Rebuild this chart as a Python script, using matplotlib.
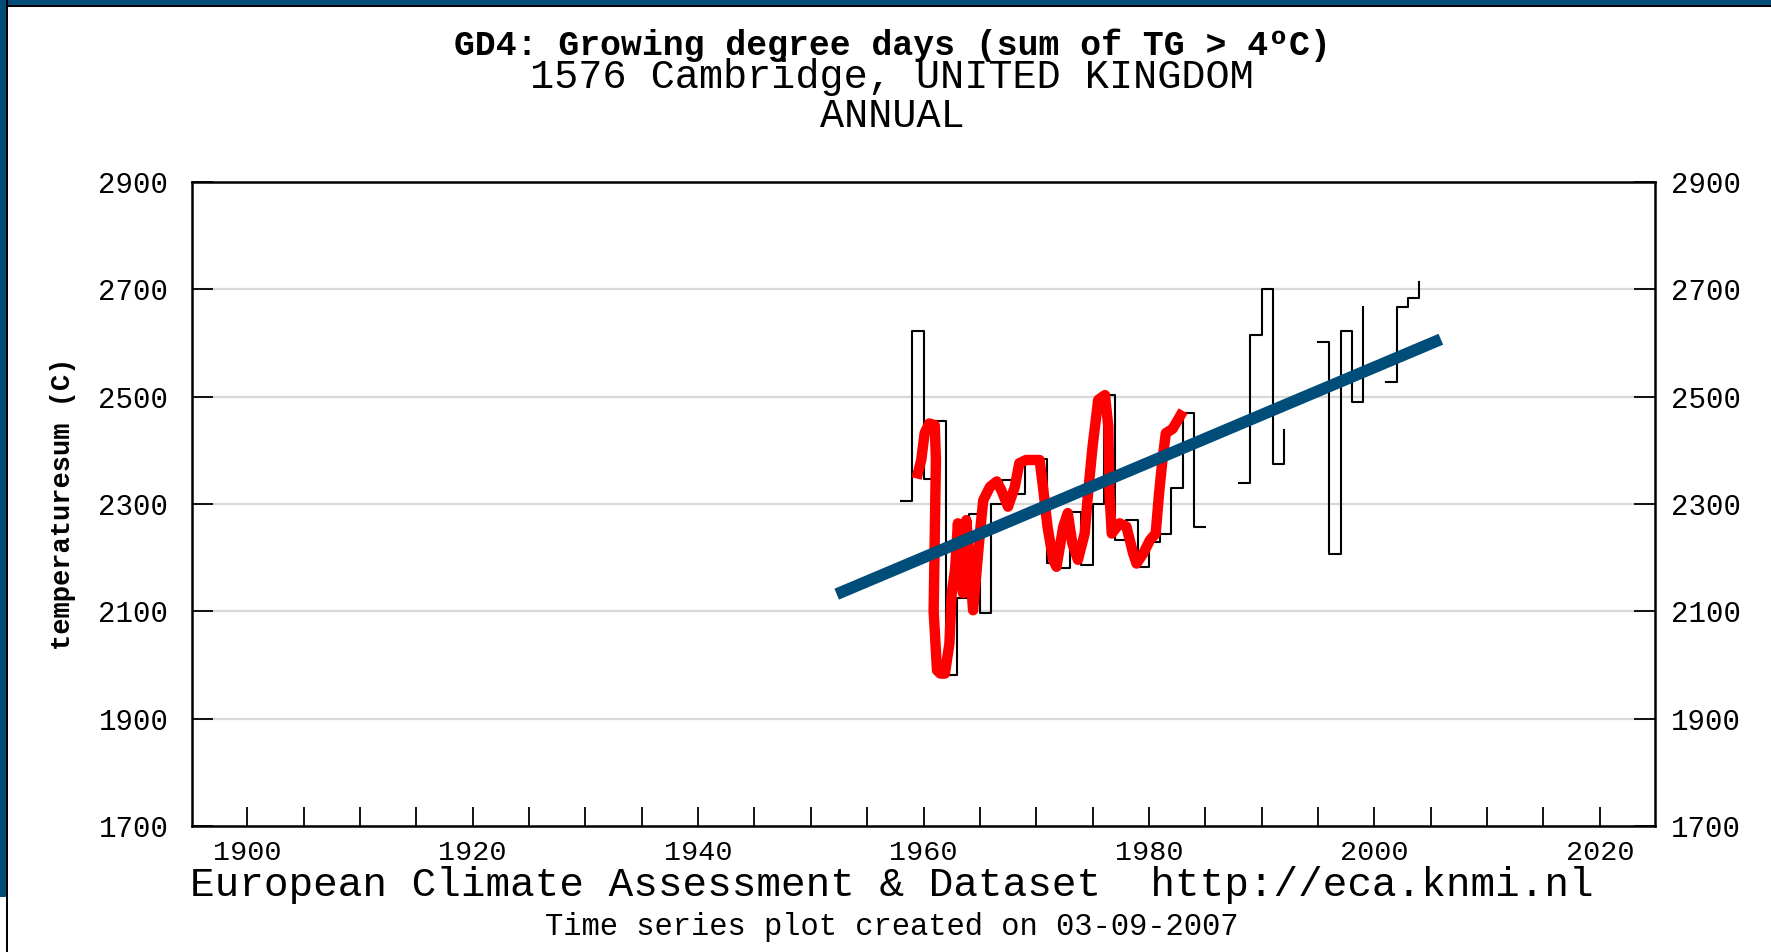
import numpy as np
import matplotlib.pyplot as plt
import matplotlib.transforms as mtransforms
from matplotlib.patches import Rectangle

# annual GD4 values (NaN = missing year)
years = list(range(1958, 2005))
gd4 = [2306, 2623, 2347, 2454, 1982, 2124, 2282, 2096, 2300, 2344,
       2319, 2384, 2384, 2190, 2180, 2285, 2187, 2300, 2504, 2232,
       2270, 2183, 2229, 2245, 2330, 2470, 2257, 2257, np.nan, np.nan,
       2339, 2614, 2700, 2375, 2437, np.nan, np.nan, 2602, 2207, 2623,
       2490, 2668, np.nan, 2527, 2668, 2684, 2714]

# hand drawn red curve (year, value)
red_x = [1959.5, 1959.8, 1960.1, 1960.5, 1961.0, 1961.1, 1960.9, 1961.2, 1961.5, 1961.9,
         1962.3, 1962.5, 1962.8, 1963.05, 1963.5, 1963.8, 1964.4, 1965.0, 1965.3, 1965.9,
         1966.5, 1966.9, 1967.5, 1968.1, 1968.5, 1969.1, 1969.5, 1970.3, 1970.6, 1971.0,
         1971.5, 1971.8, 1972.4, 1972.8, 1973.2, 1973.7, 1974.3, 1974.6, 1975.0, 1975.5,
         1976.1, 1976.4, 1976.5, 1976.7, 1977.4, 1978.0, 1978.6, 1978.9, 1979.5, 1980.1,
         1980.6, 1980.9, 1981.2, 1981.5, 1982.1, 1982.8]
red_y = [2357, 2382, 2432, 2450, 2447, 2382, 2100, 1990, 1984, 1984,
         2040, 2134, 2177, 2264, 2134, 2270, 2102, 2245, 2307, 2332,
         2342, 2326, 2295, 2332, 2376, 2382, 2382, 2382, 2332, 2258,
         2196, 2183, 2258, 2283, 2227, 2196, 2245, 2320, 2407, 2494,
         2503, 2444, 2320, 2245, 2264, 2258, 2208, 2189, 2208, 2233,
         2245, 2320, 2382, 2432, 2440, 2465]

# trend line end points
trend_x = [1952.3, 2005.9]
trend_y = [2132, 2607]

y_ticks = [1700, 1900, 2100, 2300, 2500, 2700, 2900]
x_labels = [1900, 1920, 1940, 1960, 1980, 2000, 2020]

blue = '#004d7a'
mono = ['Liberation Mono', 'DejaVu Sans Mono']

fig = plt.figure(figsize=(17.71, 9.52), dpi=100)
ax = fig.add_axes([192 / 1771, 1 - 826 / 952, (1655 - 192) / 1771, (826 - 182) / 952])

for v in y_ticks[1:-1]:
    ax.axhline(v, color='#d8d8d8', lw=1.6, zorder=1)

# each run of consecutive years drawn separately (last year of a run: riser only)
yr = np.array(years)
val = np.array(gd4, dtype=float)
ok = ~np.isnan(val)
breaks = np.where(np.diff(ok.astype(int)) != 0)[0] + 1
for seg_y, seg_v in zip(np.split(yr, breaks), np.split(val, breaks)):
    if not np.isnan(seg_v[0]):
        ax.step(seg_y, seg_v, where='post', color='black', lw=1.5, zorder=2)

ax.plot(red_x, red_y, color='#ff0000', lw=7.5, solid_joinstyle='round', zorder=3)
ax.plot(trend_x, trend_y, color=blue, lw=8.5, solid_capstyle='butt', zorder=4)

ax.set_xlim(1895.1, 2024.9)
ax.set_ylim(1700, 2900)
ax.set_yticks(y_ticks)
ax.set_yticklabels([str(v) for v in y_ticks], family=mono, fontsize=21)
ax.set_xticks(np.arange(1900, 2025, 5))
ax.set_xticklabels([str(v) if v in x_labels else '' for v in np.arange(1900, 2025, 5)],
                   family=mono, fontsize=20.5)
ax.tick_params(axis='x', direction='in', length=14, width=1.3, top=False, pad=10)
ax.tick_params(axis='y', direction='in', length=15, width=1.3, left=True, right=True,
               labelleft=True, labelright=True, pad=17)
# right hand labels sit closer to the frame
shift = mtransforms.ScaledTranslation(-0.08, 0, fig.dpi_scale_trans)
for t in ax.yaxis.get_major_ticks():
    t.label2.set_transform(t.label2.get_transform() + shift)
for s in ax.spines.values():
    s.set_linewidth(1.8)

ax.set_ylabel('temperaturesum (C)', fontsize=19.5, fontweight='bold', family=mono)
ax.yaxis.set_label_coords(-0.079, 0.5)

cx = 892 / 1771
fig.text(cx, 1 - 55 / 952, 'GD4: Growing degree days (sum of TG > 4ºC)', ha='center', va='baseline',
         family=mono, fontsize=25, fontweight='bold')
fig.text(cx, 1 - 88.5 / 952, '1576 Cambridge, UNITED KINGDOM', ha='center', va='baseline',
         family=mono, fontsize=29)
fig.text(cx, 1 - 127 / 952, 'ANNUAL', ha='center', va='baseline', family=mono, fontsize=29)
fig.text(cx, 1 - 885 / 952, 'European Climate Assessment & Dataset  http://eca.knmi.nl',
         ha='center', va='center', family=mono, fontsize=29.5)
fig.text(cx, 1 - 927 / 952, 'Time series plot created on 03-09-2007', ha='center', va='center',
         family=mono, fontsize=22)

# window frame
fig.add_artist(Rectangle((0, 1 - 5 / 952), 1, 5 / 952, transform=fig.transFigure, color=blue, lw=0))
fig.add_artist(Rectangle((0, 1 - 7 / 952), 1, 2 / 952, transform=fig.transFigure, color='black', lw=0))
fig.add_artist(Rectangle((0, 55 / 952), 6 / 1771, 1 - 55 / 952, transform=fig.transFigure, color=blue, lw=0))
fig.add_artist(Rectangle((6 / 1771, 0), 2 / 1771, 1, transform=fig.transFigure, color='black', lw=0))

fig.savefig('out.png', dpi=100)
